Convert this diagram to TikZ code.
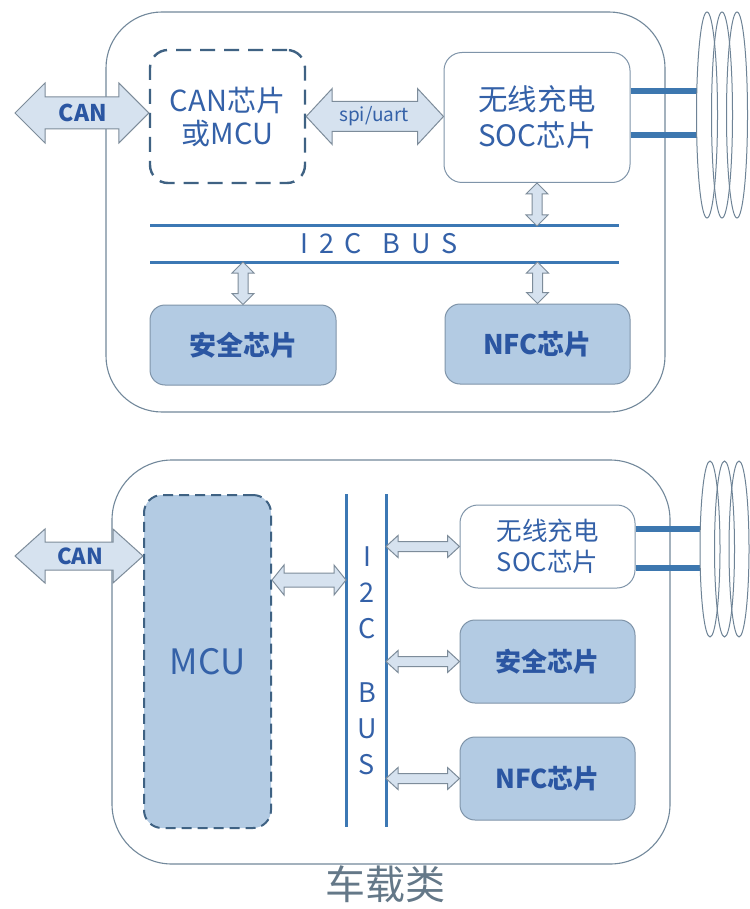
\documentclass[tikz,border=0pt]{standalone}
\usepackage{fontspec}
\setmainfont{Noto Sans CJK SC}
\usetikzlibrary{calc}
\definecolor{outerc}{HTML}{72889B}
\definecolor{txtblue}{HTML}{3461A8}
\definecolor{boldblue}{HTML}{2B56A2}
\definecolor{boxfill}{HTML}{B3CBE3}
\definecolor{boxline}{HTML}{7F94A9}
\definecolor{dashline}{HTML}{3F6283}
\definecolor{arrfill}{HTML}{D6E2EF}
\definecolor{arrline}{HTML}{7D8C9A}
\definecolor{busc}{HTML}{3C78B4}
\definecolor{leadc}{HTML}{3D77AF}
\definecolor{coilc}{HTML}{6E8396}
\definecolor{capc}{HTML}{647888}
\tikzset{
  outerbox/.style={draw=outerc,line width=1.1pt,rounded corners=56pt},
  dashbox/.style={draw=dashline,line width=2.4pt,dash pattern=on 15pt off 9pt,rounded corners=18pt,inner sep=0pt,align=center,text=txtblue},
  whitebox/.style={draw=boxline,line width=1pt,fill=white,rounded corners=18pt,inner sep=0pt,align=center,text=txtblue},
  bluebox/.style={draw=boxline,line width=1pt,fill=boxfill,rounded corners=15pt,inner sep=0pt,align=center,text=boldblue},
  fatarrow/.style={draw=arrline,fill=arrfill,line width=1pt,line join=miter},
  busline/.style={draw=busc,line width=3pt},
  lead/.style={draw=leadc,line width=5.5pt},
  coil/.style={draw=coilc,line width=1pt},
}
% horizontal double arrow: [opts]{from}{to}{shaft half}{head half}{head length}
\newcommand\fatH[6][]{\path[fatarrow,#1] let \p1=(#2), \p2=(#3) in
  (\x1,\y1) -- ++(#6,#5) -- ++(0,#4-#5) -- (\x2-#6,\y1+#4) -- ++(0,#5-#4)
  -- (\x2,\y1) -- ++(-#6,-#5) -- ++(0,#5-#4) -- (\x1+#6,\y1-#4) -- ++(0,#4-#5) -- cycle;}
% vertical double arrow: first point on top
\newcommand\fatV[6][]{\path[fatarrow,#1] let \p1=(#2), \p2=(#3) in
  (\x1,\y1) -- ++(#5,-#6) -- ++(#4-#5,0) -- (\x1+#4,\y2+#6) -- ++(#5-#4,0)
  -- (\x1,\y2) -- ++(-#5,#6) -- ++(#5-#4,0) -- (\x1-#4,\y1-#6) -- ++(#4-#5,0) -- cycle;}
\newcommand\lsp{\hspace{10.5pt}}
\begin{document}
\begin{tikzpicture}[x=1pt,y=-1pt]
\useasboundingbox[fill=white] (0,0) rectangle (749,909);

% ================= top panel =================
\draw[outerbox] (106,12) rectangle (665,412);
\node[dashbox,minimum width=155pt,minimum height=133pt,font=\fontsize{29}{33}\selectfont] (can1) at (227.5,116.5) {CAN芯片\\或MCU};
\node[whitebox,minimum width=186pt,minimum height=130pt,font=\fontsize{29.5}{36}\selectfont] (soc1) at (537,117.5) {无线充电\\SOC芯片};
\node[bluebox,minimum width=186pt,minimum height=80pt,font=\fontsize{27}{30}\selectfont\bfseries] (sec1) at (243,345) {安全芯片};
\node[bluebox,minimum width=185pt,minimum height=80pt,font=\fontsize{27}{30}\selectfont\bfseries] (nfc1) at (537.5,344) {NFC芯片};

\coordinate (bus1a) at (150,226);
\coordinate (bus1b) at (619,226);
\coordinate (bus1c) at (150,262);
\coordinate (bus1d) at (619,262);
\draw[busline] (bus1a) -- (bus1b);
\draw[busline] (bus1c) -- (bus1d);
\node[text=txtblue,font=\fontsize{27}{30}\selectfont] (bus1t) at (379,244) {I\lsp 2\lsp C\lsp\lsp B\lsp U\lsp S};

% CAN arrow (free end)
\coordinate (canL1) at (15,113);
\fatH{canL1}{can1.west |- canL1}{16pt}{30pt}{30pt}
\node[text=boldblue,font=\fontsize{23}{26}\selectfont\bfseries] (canlab1) at (83,113) {CAN};
% spi/uart arrow
\fatH{can1.east}{soc1.west |- can1.east}{15pt}{28pt}{26pt}
\node[text=txtblue,font=\fontsize{19}{22}\selectfont] (spilab) at (374,116) {spi/uart};
% vertical arrows
\fatV{soc1.south}{soc1.south |- bus1a}{5pt}{11pt}{11pt}
\fatV{sec1.north |- bus1c}{sec1.north}{5pt}{11pt}{11pt}
\fatV{nfc1.north |- bus1c}{nfc1.north}{5pt}{11pt}{11pt}

% coil leads and coils
\coordinate (lead1a) at (697,91);
\coordinate (lead1b) at (697,135);
\draw[lead] (soc1.east |- lead1a) -- (lead1a);
\draw[lead] (soc1.east |- lead1b) -- (lead1b);
\draw[coil] (707,115) ellipse [x radius=10.5,y radius=103];
\draw[coil] (722,115) ellipse [x radius=10.5,y radius=103];
\draw[coil] (737,115) ellipse [x radius=10.5,y radius=103];

% ================= bottom panel =================
\draw[outerbox,rounded corners=60pt] (112,460) rectangle (670,864);
\node[dashbox,fill=boxfill,line width=2pt,dash pattern=on 10pt off 6pt,minimum width=127pt,minimum height=333pt,font=\fontsize{35}{38}\selectfont] (mcu) at (207.5,661.5) {MCU};
\node[whitebox,minimum width=175pt,minimum height=83pt,font=\fontsize{25.5}{31}\selectfont] (soc2) at (547.5,546.5) {无线充电\\SOC芯片};
\node[bluebox,minimum width=175pt,minimum height=83pt,font=\fontsize{26}{30}\selectfont\bfseries] (sec2) at (547.5,661.5) {安全芯片};
\node[bluebox,minimum width=175pt,minimum height=83pt,font=\fontsize{26}{30}\selectfont\bfseries] (nfc2) at (547.5,778.5) {NFC芯片};

\coordinate (bus2a) at (346,494);
\coordinate (bus2b) at (346,827);
\coordinate (bus2c) at (386,494);
\coordinate (bus2d) at (386,827);
\draw[busline] (bus2a) -- (bus2b);
\draw[busline] (bus2c) -- (bus2d);
\node[text=txtblue,align=center,font=\fontsize{27}{36}\selectfont] (bus2t) at (367,661) {I\\2\\C\\[28pt]B\\U\\S};

\coordinate (canL2) at (15,556);
\fatH{canL2}{mcu.west |- canL2}{14pt}{27pt}{30pt}
\node[text=boldblue,font=\fontsize{22}{25}\selectfont\bfseries] (canlab2) at (80,556) {CAN};
\coordinate (mcuarr) at ($(mcu.east)+(0,-81.5)$);
\fatH{mcuarr}{bus2a |- mcuarr}{7pt}{15pt}{12pt}
\fatH{bus2c |- soc2.west}{soc2.west}{5pt}{11pt}{12pt}
\fatH{bus2c |- sec2.west}{sec2.west}{5pt}{11pt}{12pt}
\fatH{bus2c |- nfc2.west}{nfc2.west}{5pt}{11pt}{12pt}

\coordinate (lead2a) at (700,529);
\coordinate (lead2b) at (700,568);
\draw[lead] (soc2.east |- lead2a) -- (lead2a);
\draw[lead] (soc2.east |- lead2b) -- (lead2b);
\draw[coil] (710,549) ellipse [x radius=10,y radius=88];
\draw[coil] (724.5,549) ellipse [x radius=10,y radius=88];
\draw[coil] (739,549) ellipse [x radius=10,y radius=88];

\node[text=capc,font=\fontsize{40}{44}\selectfont] (caption) at (385,884) {车载类};
\end{tikzpicture}
\end{document}
